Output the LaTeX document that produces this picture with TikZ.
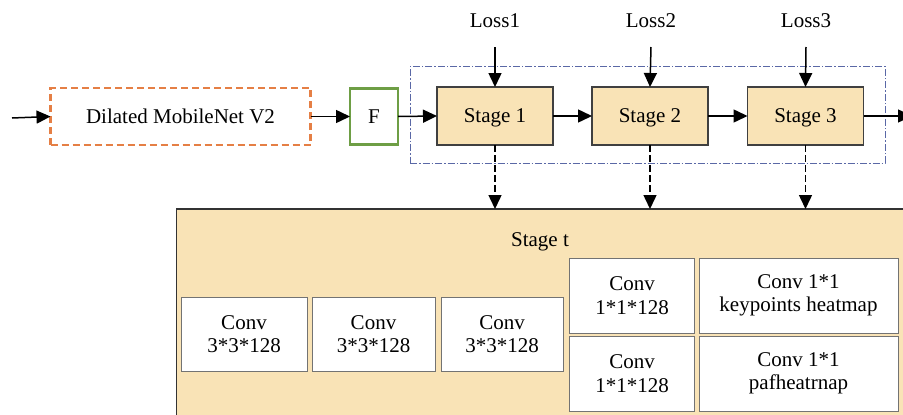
\documentclass[tikz,border=0pt]{standalone}
\usepackage{fontspec}
\setmainfont{Liberation Serif}
\usetikzlibrary{arrows.meta}
\definecolor{tan}{HTML}{F9E3B6}
\definecolor{orng}{HTML}{E57F45}
\definecolor{grn}{HTML}{6E9E45}
\definecolor{dashblue}{HTML}{5A68A6}
\begin{document}
\begin{tikzpicture}[x=1pt,y=-1pt,
  font=\fontsize{21}{23.5}\selectfont,
  every node/.style={inner sep=0pt, outer sep=0pt, align=center},
  oneline/.style={text depth=0pt},
  arr/.style={line width=1.5pt, -{Triangle[length=14pt,width=13pt]}},
  darr/.style={line width=1.5pt, dash pattern=on 7pt off 3pt, -{Triangle[length=14pt,width=13pt]}},
  stagebox/.style={oneline, draw=black!75, line width=1.2pt, fill=tan, minimum width=116pt, minimum height=58pt},
  convbox/.style={draw=black!55, line width=1pt, fill=white, minimum height=74pt}
]
\useasboundingbox (0,0) rectangle (903,415);
\clip (0,0) rectangle (903,415);
\fill[white] (0,0) rectangle (903,415);

% dash-dot region
\node[draw=dashblue, line width=0.9pt, dash pattern=on 7pt off 2pt on 1.5pt off 2pt,
      minimum width=475pt, minimum height=97pt] (grp) at (647.5,114.5) {};

% top row
\coordinate (in) at (12,118);
\node[oneline, draw=orng, line width=2.4pt, dash pattern=on 7pt off 4pt, minimum width=260pt, minimum height=57pt] (dm) at (180.5,116.5) {Dilated MobileNet V2};
\node[oneline, draw=grn, line width=2.8pt, minimum width=48pt, minimum height=56pt] (f) at (374,116.5) {F};
\node[stagebox] (s1) at (495,116) {Stage 1};
\node[stagebox] (s2) at (650,116) {Stage 2};
\node[stagebox] (s3) at (805.5,116) {Stage 3};
\coordinate (out) at (912,116);

\node[oneline] (l1) at (495,21) {Loss1};
\node[oneline] (l2) at (651,21) {Loss2};
\node[oneline] (l3) at (806,21) {Loss3};
\coordinate (l1e) at (495,47);
\coordinate (l2e) at (651,47);
\coordinate (l3e) at (806,47);

\draw[arr] (in) -- (dm.west);
\draw[arr] (dm.east) -- (f.west);
\draw[arr] (f.east) -- (s1.west);
\draw[arr] (s1.east) -- (s2.west);
\draw[arr] (s2.east) -- (s3.west);
\draw[arr] (s3.east) -- (out);
\draw[arr] (l1e) -- (s1.north);
\draw[arr] (l2e) -- (s2.north);
\draw[arr] (l3e) -- (s3.north);

% big stage t box
\node[draw=black!80, line width=1.2pt, fill=tan, minimum width=740pt, minimum height=230pt, anchor=north west] (big) at (176.5,209) {};
\node[oneline] (st) at (540,240) {Stage t};

\draw[darr] (s1.south) -- (s1.south |- big.north);
\draw[darr] (s2.south) -- (s2.south |- big.north);
\draw[darr] (s3.south) -- (s3.south |- big.north);

% conv boxes
\node[convbox, minimum width=126pt] (c1) at (244,334) {Conv\\3*3*128};
\node[convbox, minimum width=123pt] (c2) at (373.5,334) {Conv\\3*3*128};
\node[convbox, minimum width=122pt] (c3) at (502,334) {Conv\\3*3*128};
\node[convbox, minimum width=125pt, minimum height=75pt] (k1) at (632,295.5) {Conv\\1*1*128};
\node[convbox, minimum width=199pt, minimum height=75pt] (k2) at (798.5,295.5) {Conv 1*1\\keypoints heatmap};
\node[convbox, minimum width=125pt, minimum height=75pt] (p1) at (632,373.5) {Conv\\1*1*128};
\node[convbox, minimum width=199pt, minimum height=75pt] (p2) at (798.5,373.5) {Conv 1*1\\pafheatrnap};
\end{tikzpicture}
\end{document}
